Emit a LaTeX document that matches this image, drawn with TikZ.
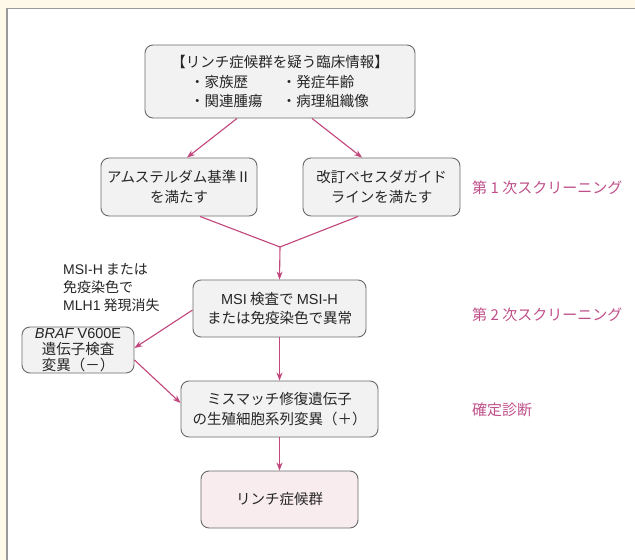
\documentclass[tikz,border=0pt]{standalone}
\usepackage{fontspec}
\setmainfont{Noto Sans CJK JP}[AutoFakeSlant=0.2]
\newfontfamily\latf{Liberation Sans}
\usetikzlibrary{arrows.meta}
\definecolor{cream}{HTML}{FEF9E8}
\definecolor{framegray}{HTML}{9A9A9A}
\definecolor{boxfill}{HTML}{F2F2F2}
\definecolor{boxdraw}{HTML}{6A6A6A}
\definecolor{pinkfill}{HTML}{F8ECEF}
\definecolor{arrowc}{HTML}{C2457B}
\definecolor{labc}{HTML}{C0508A}
\newcommand{\lt}[1]{{\latf #1}}
\begin{document}
\begin{tikzpicture}[x=1bp,y=-1bp,
  box/.style={draw=boxdraw,fill=boxfill,rounded corners=8bp,line width=0.9bp,
    align=center,inner sep=0pt,text=black!85,
    font=\fontsize{14.5bp}{19.5bp}\selectfont},
  flow/.style={draw=arrowc,line width=1.1bp,-{Stealth[length=8bp,width=6bp]}},
  flowline/.style={draw=arrowc,line width=1.1bp},
  stage/.style={anchor=west,text=labc,inner sep=0pt,font=\fontsize{15bp}{18bp}\selectfont},
  note/.style={anchor=north west,align=left,inner sep=0pt,text=black!85,
    font=\fontsize{14bp}{18bp}\selectfont}]
\useasboundingbox (0,0) rectangle (635,560);
\fill[cream] (0,0) rectangle (635,560);
\fill[white] (7,8.5) rectangle (635,560);
\draw[framegray,line width=1.5bp] (7,560) -- (7,8.5) -- (635,8.5);

\node[box,minimum width=270bp,minimum height=73bp] (top) at (280,81.5)
  {【リンチ症候群を疑う臨床情報】\\
   \makebox[92bp][l]{・家族歴}\makebox[88bp][l]{・発症年齢}\\
   \makebox[92bp][l]{・関連腫瘍}\makebox[88bp][l]{・病理組織像}};
\node[box,minimum width=156bp,minimum height=58bp] (ams) at (179,187)
  {アムステルダム基準Ⅱ\\を満たす};
\node[box,minimum width=157bp,minimum height=58bp] (beth) at (381.5,187)
  {改訂ベセスダガイド\\ラインを満たす};
\node[box,minimum width=173bp,minimum height=57bp] (msi) at (279.5,308.5)
  {\lt{MSI} 検査で \lt{MSI-H}\\または免疫染色で異常};
\node[box,minimum width=112bp,minimum height=46bp,
  font=\fontsize{14.5bp}{16bp}\selectfont] (braf) at (78,350)
  {\lt{\itshape BRAF}\lt{ V600E}\\遺伝子検査\\変異（－）};
\node[box,minimum width=197bp,minimum height=56bp] (mmr) at (279.5,409)
  {ミスマッチ修復遺伝子\\の生殖細胞系列変異（＋）};
\node[box,fill=pinkfill,minimum width=157bp,minimum height=57bp] (lynch) at (279.5,499.5)
  {リンチ症候群};

\coordinate (merge) at (280,247);

\draw[flow] ([xshift=-43bp]top.south) -- ([xshift=8bp]ams.north);
\draw[flow] ([xshift=32bp]top.south) -- ([xshift=-19.5bp]beth.north);
\draw[flowline] ([xshift=21bp]ams.south) -- (merge);
\draw[flowline] ([xshift=-23.5bp]beth.south) -- (merge);
\draw[flow] (merge) -- (msi.north);
\draw[flow] ([yshift=-1.5bp]msi.west) -- ([yshift=2bp]braf.east);
\draw[flow] ([yshift=-10bp]braf.east) -- ([yshift=6bp]mmr.west);
\draw[flow] (msi.south) -- (mmr.north);
\draw[flow] (mmr.south) -- (lynch.north);

\node[note] (cond) at (63,263) {\lt{MSI-H} または\\免疫染色で\\\lt{MLH1} 発現消失};

\node[stage] (s1) at (472,188) {第 1 次スクリーニング};
\node[stage] (s2) at (472,315) {第 2 次スクリーニング};
\node[stage] (s3) at (472,410) {確定診断};
\end{tikzpicture}
\end{document}
